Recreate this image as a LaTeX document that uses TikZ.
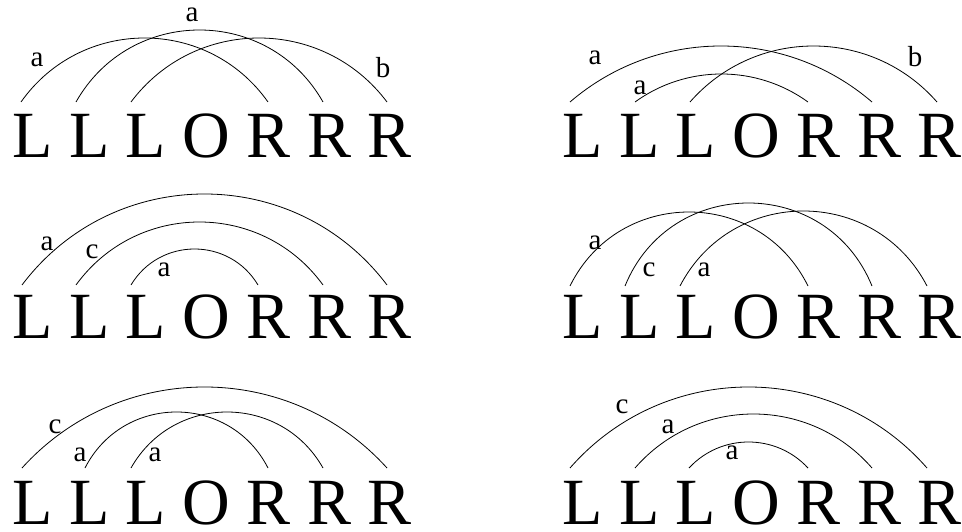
\documentclass[tikz,border=0pt]{standalone}
\usepackage{fontspec}
\setmainfont{Liberation Serif}
\newfontfamily\bigserif{Liberation Serif}
\tikzset{
  bigrow/.style={inner sep=0pt, anchor=base west, font=\bigserif\fontsize{66}{66}\selectfont},
  lbl/.style={inner sep=0pt, font=\bigserif\fontsize{29}{29}\selectfont},
  arcline/.style={line width=0.8pt, black},
}
% #1 name, #2 x start, #3 x end, #4 y (image coords), #5 sagitta
\newcommand\myarc[5]{%
  \pgfmathsetmacro\arcang{2*atan(2*#5/(#3-#2))}%
  \pgfmathsetmacro\arcdist{(4/3)*#5/sin(\arcang)}%
  \coordinate (#1s) at (#2,{531-#4});%
  \coordinate (#1e) at (#3,{531-#4});%
  \draw[arcline] (#1s) to[out=\arcang, in={180-\arcang}, distance=\arcdist pt] (#1e);%
}
\begin{document}
\begin{tikzpicture}[x=1pt,y=1pt]
\useasboundingbox (0,0) rectangle (962,531);
% letter rows
\node[bigrow] (row1l) at (12,373.5) {L L L O R R R};
\node[bigrow] (row1r) at (562,373.5) {L L L O R R R};
\node[bigrow] (row2l) at (12,193) {L L L O R R R};
\node[bigrow] (row2r) at (562,193) {L L L O R R R};
\node[bigrow] (row3l) at (12,7) {L L L O R R R};
\node[bigrow] (row3r) at (562,7) {L L L O R R R};
% panel 1
\myarc{p1a}{21}{268}{102}{64}
\myarc{p1b}{76}{323}{102}{72}
\myarc{p1c}{131}{387}{102}{64}
\node[lbl] (l1a) at (37,{531-60}) {a};
\node[lbl] (l1b) at (192,{531-14.5}) {a};
\node[lbl] (l1c) at (383,{531-68}) {b};
% panel 2
\myarc{p2a}{570}{872}{102}{56}
\myarc{p2b}{635}{808}{102}{28}
\myarc{p2c}{690}{937}{102}{56}
\node[lbl] (l2a) at (595,{531-58}) {a};
\node[lbl] (l2b) at (640,{531-88}) {a};
\node[lbl] (l2c) at (915,{531-57}) {b};
% panel 3
\myarc{p3a}{22}{387}{285}{91}
\myarc{p3b}{76}{323}{285}{63}
\myarc{p3c}{131}{258}{285}{36}
\node[lbl] (l3a) at (47,{531-244}) {a};
\node[lbl] (l3b) at (92,{531-252}) {c};
\node[lbl] (l3c) at (164,{531-270}) {a};
% panel 4
\myarc{p4a}{570}{808}{286}{74}
\myarc{p4b}{625}{872}{286}{83}
\myarc{p4c}{680}{927}{286}{75}
\node[lbl] (l4a) at (595,{531-243}) {a};
\node[lbl] (l4b) at (649,{531-270}) {c};
\node[lbl] (l4c) at (704,{531-270}) {a};
% panel 5
\myarc{p5a}{22}{387}{468}{81}
\myarc{p5b}{85}{268}{468}{56}
\myarc{p5c}{131}{323}{468}{56}
\node[lbl] (l5a) at (55,{531-427}) {c};
\node[lbl] (l5b) at (80,{531-455}) {a};
\node[lbl] (l5c) at (155,{531-455}) {a};
% panel 6
\myarc{p6a}{570}{927}{468}{81}
\myarc{p6b}{635}{872}{468}{54}
\myarc{p6c}{689}{808}{468}{26}
\node[lbl] (l6a) at (622,{531-407}) {c};
\node[lbl] (l6b) at (668,{531-427}) {a};
\node[lbl] (l6c) at (732,{531-453}) {a};
\end{tikzpicture}
\end{document}
